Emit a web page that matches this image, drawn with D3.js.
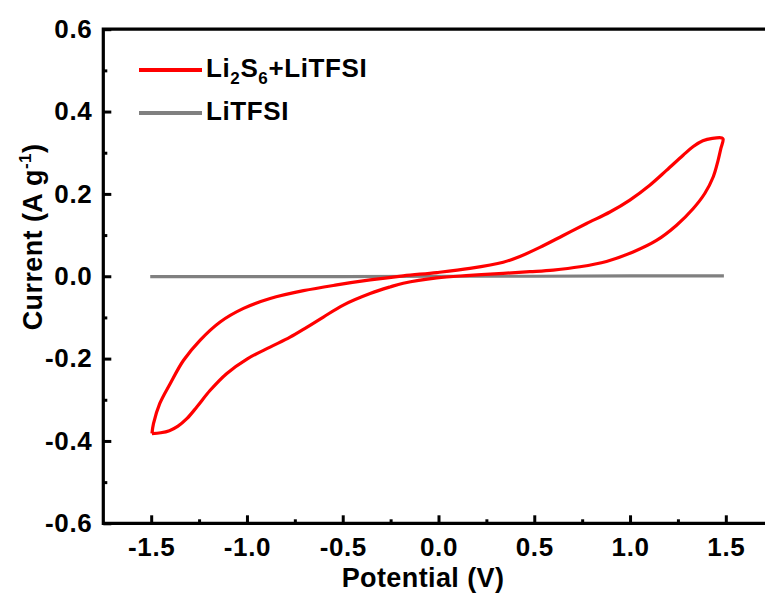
<!DOCTYPE html>
<html>
<head>
<meta charset="utf-8">
<script src="https://cdn.jsdelivr.net/npm/d3@7"></script>
<style>
  body { margin: 0; background: #fff; }
  text { font-family: "Liberation Sans", Arial, sans-serif; font-weight: bold; fill: #000; }
</style>
</head>
<body>
<svg id="chart" width="765" height="594"></svg>
<script>
// forward scan (upper branch), -1.5 V -> 1.5 V
const fwdPotential = [-1.496, -1.488, -1.455, -1.401, -1.331, -1.244, -1.140, -1.018, -0.879, -0.705, -0.531, -0.357, -0.184, -0.009, 0.164, 0.338, 0.425, 0.529, 0.651, 0.773, 0.895, 0.999, 1.103, 1.190, 1.277, 1.330, 1.380, 1.430, 1.480]
const fwdCurrent = [-0.382, -0.358, -0.309, -0.261, -0.204, -0.155, -0.111, -0.078, -0.054, -0.035, -0.021, -0.009, 0.001, 0.009, 0.019, 0.034, 0.048, 0.070, 0.099, 0.128, 0.156, 0.185, 0.221, 0.257, 0.294, 0.315, 0.329, 0.335, 0.336]
// reverse scan (lower branch), 1.5 V -> -1.5 V
const revPotential = [1.486, 1.474, 1.460, 1.434, 1.390, 1.329, 1.243, 1.138, 1.016, 0.877, 0.738, 0.599, 0.477, 0.338, 0.164, -0.009, -0.184, -0.253, -0.357, -0.497, -0.601, -0.688, -0.775, -0.879, -1.000, -1.105, -1.192, -1.261, -1.314, -1.360, -1.405, -1.450, -1.496]
const revCurrent = [0.333, 0.310, 0.282, 0.241, 0.201, 0.164, 0.124, 0.087, 0.059, 0.036, 0.023, 0.015, 0.011, 0.007, 0.002, -0.004, -0.017, -0.026, -0.042, -0.070, -0.099, -0.124, -0.148, -0.172, -0.201, -0.236, -0.277, -0.317, -0.346, -0.364, -0.375, -0.380, -0.382]
// LiTFSI only
const refPotential = [-1.505, -1.0, -0.5, 0.0, 0.5, 1.0, 1.49]
const refCurrent = [-0.001, -0.001, -0.001, 0.0, 0.0, 0.001, 0.001]

const xTicks = [-1.5, -1.0, -0.5, 0.0, 0.5, 1.0, 1.5]
const xMinor = [-1.25, -0.75, -0.25, 0.25, 0.75, 1.25]
const yTicks = [-0.6, -0.4, -0.2, 0.0, 0.2, 0.4, 0.6]
const yMinor = [-0.5, -0.3, -0.1, 0.1, 0.3, 0.5]

const seriesNames = ['Li2S6+LiTFSI', 'LiTFSI']
const seriesColors = ['#ff0000', '#808080']

const chart = d3.select('#chart')
const x = d3.scaleLinear().domain([-1.75, 1.75]).range([103.3, 773.7])
const y = d3.scaleLinear().domain([-0.6, 0.6]).range([523.3, 29.2])

const loop = fwdPotential.map((p, i) => [p, fwdCurrent[i]])
    .concat(revPotential.map((p, i) => [p, revCurrent[i]]))
const ref = refPotential.map((p, i) => [p, refCurrent[i]])

const line = d3.line()
    .x(d => x(d[0]))
    .y(d => y(d[1]))
    .curve(d3.curveCatmullRom.alpha(0.5))

// gray reference line
chart.append('path')
    .attr('d', d3.line().x(d => x(d[0])).y(d => y(d[1]))(ref))
    .attr('fill', 'none')
    .attr('stroke', seriesColors[1])
    .attr('stroke-width', 3.2)

// CV loop
chart.append('path')
    .attr('d', line(loop))
    .attr('fill', 'none')
    .attr('stroke', seriesColors[0])
    .attr('stroke-width', 3.2)
    .attr('stroke-linejoin', 'round')

// axes (plain hyphen for minus, like the original)
const fmt = d3.formatLocale({ decimal: '.', thousands: ',', grouping: [3], currency: ['', ''], minus: '-' }).format('.1f')
const xAxis = d3.axisBottom(x).tickValues(xTicks).tickSize(-8).tickPadding(14).tickFormat(fmt)
const xAxisMinor = d3.axisBottom(x).tickValues(xMinor).tickSize(-4).tickFormat('')
const yAxis = d3.axisLeft(y).tickValues(yTicks).tickSize(-8).tickPadding(11).tickFormat(fmt)
const yAxisMinor = d3.axisLeft(y).tickValues(yMinor).tickSize(-4).tickFormat('')

function styleAxis(g) {
    g.select('.domain').remove()
    g.selectAll('line').attr('stroke', '#000').attr('stroke-width', 3)
    g.selectAll('text').attr('font-size', 26).attr('letter-spacing', 0.6)
        .attr('font-family', null).attr('fill', '#000')
}

chart.append('g').attr('transform', 'translate(0,523.3)').call(xAxis).call(styleAxis)
chart.append('g').attr('transform', 'translate(0,523.3)').call(xAxisMinor).call(styleAxis)
chart.append('g').attr('transform', 'translate(103.3,0)').call(yAxis).call(styleAxis)
chart.append('g').attr('transform', 'translate(103.3,0)').call(yAxisMinor).call(styleAxis)

// frame: left, bottom, top
chart.append('path')
    .attr('d', `M${x(1.75)},${y(0.6)}H${x(-1.75)}V${y(-0.6)}H${x(1.75)}`)
    .attr('fill', 'none')
    .attr('stroke', '#000')
    .attr('stroke-width', 3.2)

// axis titles
chart.append('text')
    .attr('x', 423).attr('y', 587)
    .attr('text-anchor', 'middle')
    .attr('font-size', 27)
    .attr('letter-spacing', 0.4)
    .text('Potential (V)')

const yt = chart.append('text')
    .attr('transform', 'translate(42,237) rotate(-90)')
    .attr('text-anchor', 'middle')
    .attr('font-size', 27)
    .attr('letter-spacing', 0.4)
yt.append('tspan').text('Current (A g')
yt.append('tspan').attr('font-size', 17).attr('dy', -11).text('-1')
yt.append('tspan').attr('dy', 11).text(')')

// legend
const legend = chart.append('g')
seriesNames.forEach((name, i) => {
    const ly = 70 + i * 43
    legend.append('line')
        .attr('x1', 139).attr('x2', 202)
        .attr('y1', ly).attr('y2', ly)
        .attr('stroke', seriesColors[i])
        .attr('stroke-width', 4)
})
const lt = legend.append('text').attr('x', 206).attr('y', 77).attr('font-size', 26).attr('letter-spacing', 0.6)
lt.append('tspan').text('Li')
lt.append('tspan').attr('font-size', 17).attr('dy', 7).text('2')
lt.append('tspan').attr('dy', -7).text('S')
lt.append('tspan').attr('font-size', 17).attr('dy', 7).text('6')
lt.append('tspan').attr('dy', -7).text('+LiTFSI')
legend.append('text').attr('x', 206).attr('y', 120).attr('font-size', 26).attr('letter-spacing', 0.6).text(seriesNames[1])
</script>
</body>
</html>
